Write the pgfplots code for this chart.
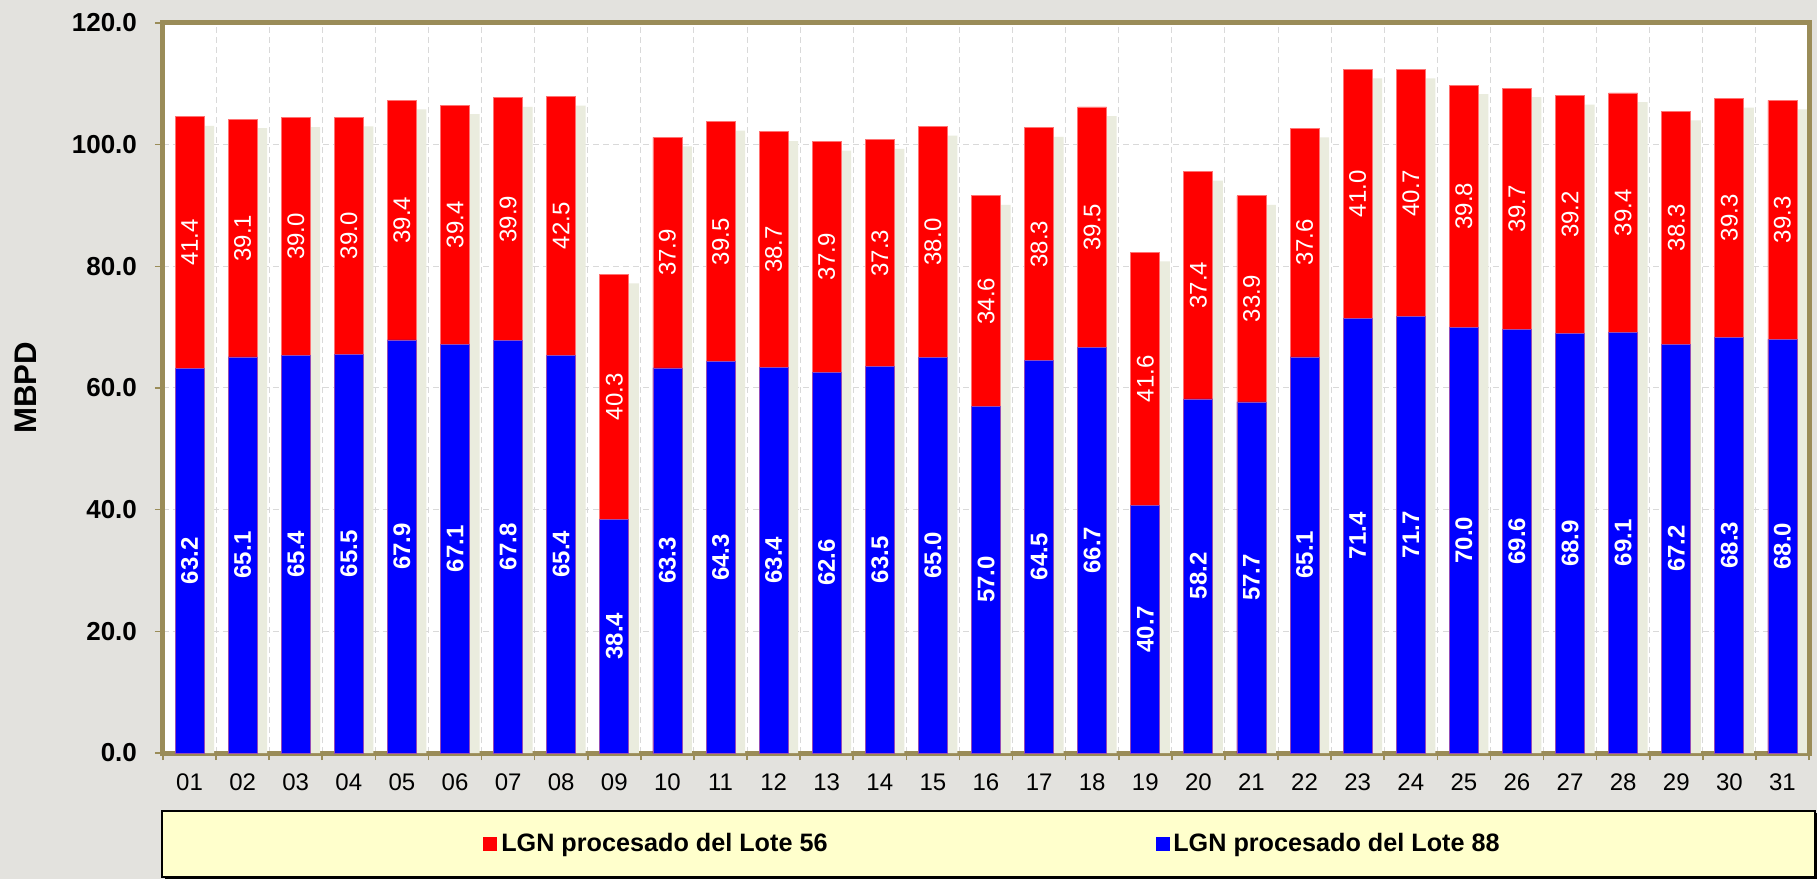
\documentclass[border=0pt]{standalone}
\usepackage{pgfplots}
\pgfplotsset{compat=1.18}
\usepackage{pgfplotstable}
\usepackage{fontspec}
\setmainfont{Liberation Sans}
\definecolor{bgc}{RGB}{227,226,222}
\definecolor{framec}{RGB}{154,140,88}
\definecolor{legfill}{RGB}{255,255,204}
\definecolor{shad}{RGB}{234,236,222}
\definecolor{bblue}{RGB}{0,0,255}
\definecolor{rred}{RGB}{255,0,0}

\pgfplotstableread{
d b r
1 63.2 41.4
2 65.1 39.1
3 65.4 39.0
4 65.5 39.0
5 67.9 39.4
6 67.1 39.4
7 67.8 39.9
8 65.4 42.5
9 38.4 40.3
10 63.3 37.9
11 64.3 39.5
12 63.4 38.7
13 62.6 37.9
14 63.5 37.3
15 65.0 38.0
16 57.0 34.6
17 64.5 38.3
18 66.7 39.5
19 40.7 41.6
20 58.2 37.4
21 57.7 33.9
22 65.1 37.6
23 71.4 41.0
24 71.7 40.7
25 70.0 39.8
26 69.6 39.7
27 68.9 39.2
28 69.1 39.4
29 67.2 38.3
30 68.3 39.3
31 68.0 39.3
}\data

\begin{document}
\begin{tikzpicture}
\fill[bgc] (-81.5pt,-63pt) rectangle (827pt,376.5pt);
\fill[black] (1pt,-63pt) rectangle (827pt,-30pt);
\filldraw[fill=legfill, draw=black, line width=0.6pt] (-0.5pt,-62pt) rectangle (826pt,-29pt);
\begin{axis}[
  at={(0,0)}, anchor=south west,
  scale only axis, width=823pt, height=365pt,
  xmin=0.5, xmax=31.5, ymin=0, ymax=120,
  /pgf/number format/assume math mode=true,
  axis background/.style={fill=white},
  axis line style={draw=framec, line width=2.5pt},
  tick align=outside, tick pos=left,
  xtick={1,...,31},
  xticklabels={01,02,03,04,05,06,07,08,09,10,11,12,13,14,15,16,17,18,19,20,21,22,23,24,25,26,27,28,29,30,31},
  minor xtick={0.5,1.5,...,31.5},
  major x tick style={draw=none},
  minor x tick style={draw=framec, line width=0.8pt},
  major y tick style={draw=framec, line width=0.8pt},
  major tick length=4pt, minor tick length=3.5pt,
  ytick={0,20,...,120},
  ymajorgrids, xminorgrids,
  grid style={densely dashed, black!15, line width=0.5pt},
  minor grid style={densely dashed, black!15, line width=0.5pt},
  xticklabel style={font=\fontsize{12}{14}\selectfont, yshift=-3pt},
  yticklabel style={font=\bfseries\fontsize{13}{15}\selectfont, xshift=-5.5pt, /pgf/number format/.cd, fixed, fixed zerofill, precision=1},
  ylabel={MBPD},
  ylabel style={font=\bfseries\fontsize{15.6}{17}\selectfont, at={(axis description cs:-0.0832,0.5)}, anchor=center},
  legend style={at={(0.5046,-0.1247)}, anchor=center, draw=none, fill=none,
    font=\bfseries\fontsize{12.6}{14}\selectfont,
    /tikz/every even column/.append style={column sep=162pt}},
  legend columns=2,
]
\addplot[ybar, bar width=14.5pt, bar shift=5pt, fill=shad, draw=none, forget plot]
  table[x=d, y expr=\thisrow{b}+\thisrow{r}-1.5] {\data};
\addplot[ybar, bar width=14.5pt, bar shift=0pt, fill=rred, draw=red!55!white, line width=0.4pt,
  legend image code/.code={\fill[rred] (0pt,-3.25pt) rectangle (6.5pt,3.25pt);}]
  table[x=d, y expr=\thisrow{b}+\thisrow{r}] {\data};
\addlegendentry{LGN procesado del Lote 56}
\addplot[ybar, bar width=14.5pt, bar shift=0pt, fill=bblue, draw=blue!60!red!70!white, line width=0.4pt,
  legend image code/.code={\fill[bblue] (0pt,-3.25pt) rectangle (6.5pt,3.25pt);}]
  table[x=d, y=b] {\data};
\addlegendentry{LGN procesado del Lote 88}
\addplot[draw=none, forget plot, point meta=explicit,
  nodes near coords={\pgfmathprintnumber[fixed,fixed zerofill,precision=1]{\pgfplotspointmeta}},
  nodes near coords style={rotate=90, anchor=center, text=white, font=\bfseries\fontsize{12}{14}\selectfont}]
  table[x=d, y expr=\thisrow{b}/2, meta=b] {\data};
\addplot[draw=none, forget plot, point meta=explicit,
  nodes near coords={\pgfmathprintnumber[fixed,fixed zerofill,precision=1]{\pgfplotspointmeta}},
  nodes near coords style={rotate=90, anchor=center, text=white, font=\fontsize{12}{14}\selectfont}]
  table[x=d, y expr=\thisrow{b}+\thisrow{r}/2, meta=r] {\data};
\end{axis}
\end{tikzpicture}
\end{document}
